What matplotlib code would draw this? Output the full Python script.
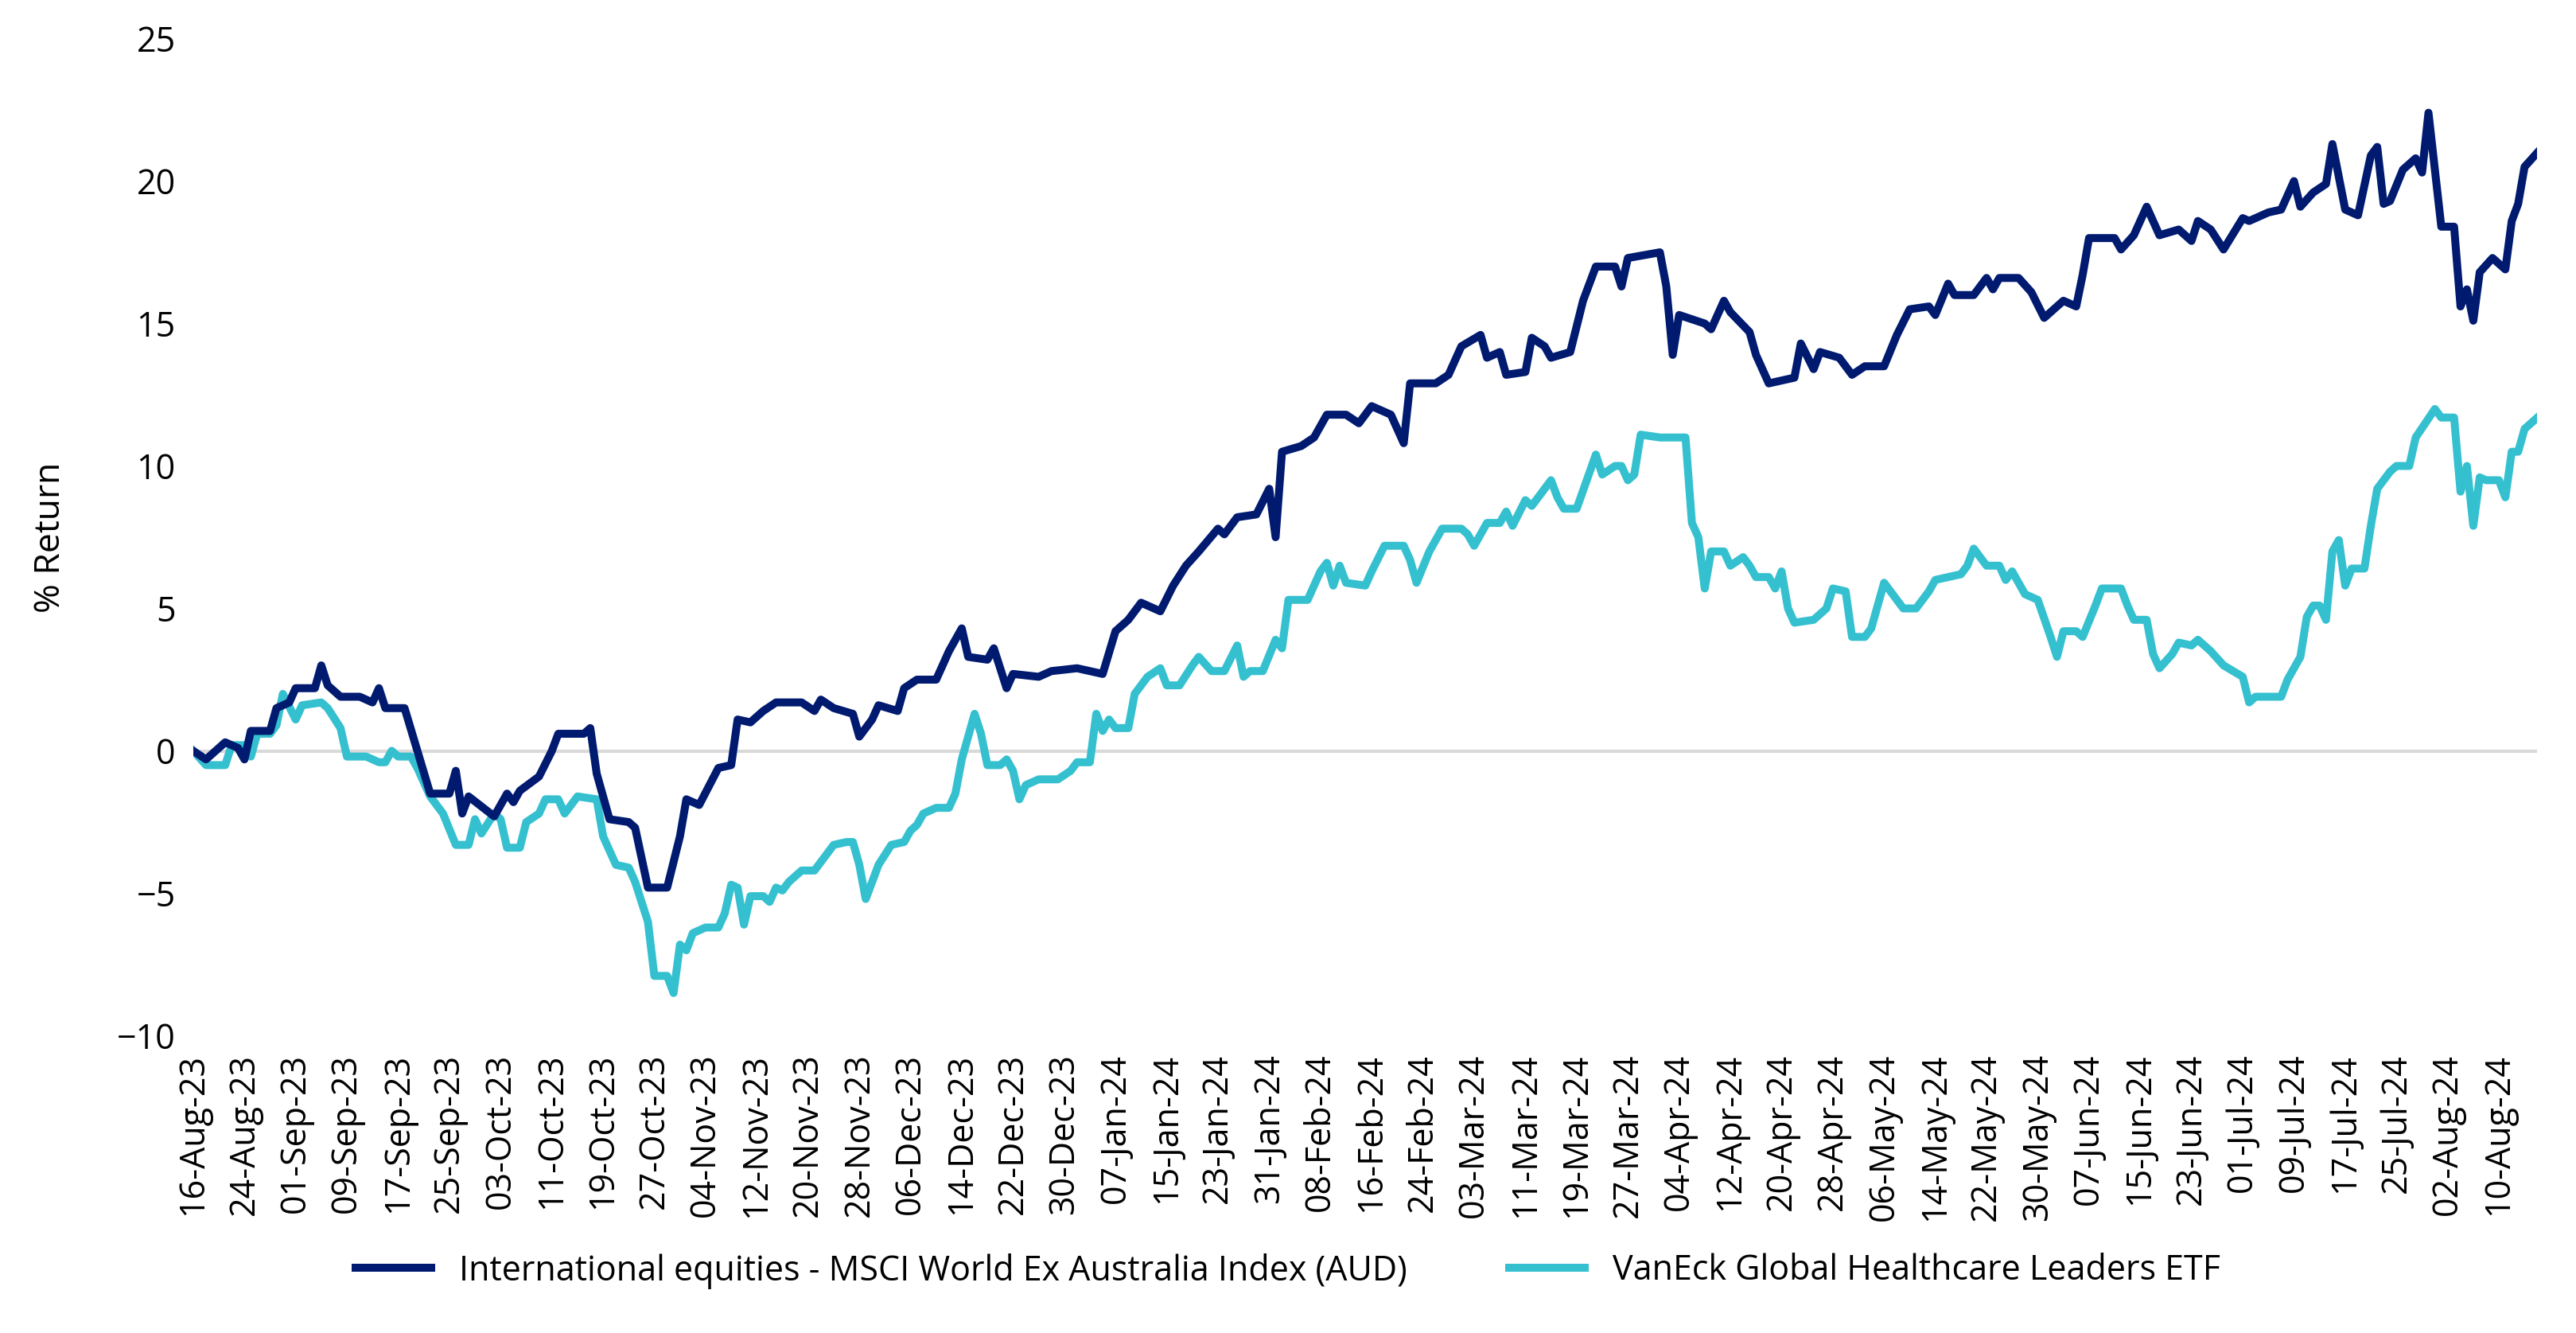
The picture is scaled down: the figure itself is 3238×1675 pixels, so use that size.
import pandas as pd
import matplotlib.pyplot as plt
import matplotlib.dates as mdates

plt.rcParams["font.family"] = ["Open Sans", "DejaVu Sans"]

msci_dates = ["2023-08-16", "2023-08-18", "2023-08-21", "2023-08-23", "2023-08-24", "2023-08-25",
              "2023-08-28", "2023-08-29", "2023-08-31", "2023-09-01", "2023-09-04", "2023-09-05",
              "2023-09-06", "2023-09-08", "2023-09-11", "2023-09-13", "2023-09-14", "2023-09-15",
              "2023-09-18", "2023-09-20", "2023-09-22", "2023-09-25", "2023-09-26", "2023-09-27",
              "2023-09-28", "2023-10-02", "2023-10-04", "2023-10-05", "2023-10-06", "2023-10-09",
              "2023-10-11", "2023-10-12", "2023-10-16", "2023-10-17", "2023-10-18", "2023-10-20",
              "2023-10-23", "2023-10-24", "2023-10-26", "2023-10-29", "2023-10-31", "2023-11-01",
              "2023-11-03", "2023-11-06", "2023-11-08", "2023-11-09", "2023-11-11", "2023-11-13",
              "2023-11-15", "2023-11-19", "2023-11-21", "2023-11-22", "2023-11-24", "2023-11-27",
              "2023-11-28", "2023-11-30", "2023-12-01", "2023-12-04", "2023-12-05", "2023-12-07",
              "2023-12-10", "2023-12-12", "2023-12-14", "2023-12-15", "2023-12-18", "2023-12-19",
              "2023-12-21", "2023-12-22", "2023-12-26", "2023-12-28", "2024-01-01", "2024-01-03",
              "2024-01-05", "2024-01-07", "2024-01-09", "2024-01-11", "2024-01-14", "2024-01-16",
              "2024-01-18", "2024-01-20", "2024-01-23", "2024-01-24", "2024-01-26", "2024-01-29",
              "2024-01-31", "2024-02-01", "2024-02-02", "2024-02-05", "2024-02-07", "2024-02-09",
              "2024-02-12", "2024-02-14", "2024-02-16", "2024-02-19", "2024-02-21", "2024-02-22",
              "2024-02-26", "2024-02-28", "2024-03-01", "2024-03-04", "2024-03-05", "2024-03-07",
              "2024-03-08", "2024-03-11", "2024-03-12", "2024-03-14", "2024-03-15", "2024-03-18",
              "2024-03-20", "2024-03-22", "2024-03-25", "2024-03-26", "2024-03-27", "2024-04-01",
              "2024-04-02", "2024-04-03", "2024-04-04", "2024-04-08", "2024-04-09", "2024-04-11",
              "2024-04-12", "2024-04-15", "2024-04-16", "2024-04-18", "2024-04-22", "2024-04-23",
              "2024-04-25", "2024-04-26", "2024-04-29", "2024-05-01", "2024-05-03", "2024-05-06",
              "2024-05-08", "2024-05-10", "2024-05-13", "2024-05-14", "2024-05-16", "2024-05-17",
              "2024-05-20", "2024-05-22", "2024-05-23", "2024-05-24", "2024-05-27", "2024-05-29",
              "2024-05-31", "2024-06-03", "2024-06-05", "2024-06-06", "2024-06-07", "2024-06-11",
              "2024-06-12", "2024-06-14", "2024-06-16", "2024-06-18", "2024-06-21", "2024-06-23",
              "2024-06-24", "2024-06-26", "2024-06-28", "2024-07-01", "2024-07-02", "2024-07-05",
              "2024-07-07", "2024-07-09", "2024-07-10", "2024-07-12", "2024-07-14", "2024-07-15",
              "2024-07-17", "2024-07-19", "2024-07-21", "2024-07-22", "2024-07-23", "2024-07-24",
              "2024-07-26", "2024-07-28", "2024-07-29", "2024-07-30", "2024-08-01", "2024-08-03",
              "2024-08-04", "2024-08-05", "2024-08-06", "2024-08-07", "2024-08-09", "2024-08-11",
              "2024-08-12", "2024-08-13", "2024-08-14", "2024-08-16"]
msci = [0, -0.3, 0.3, 0.1, -0.3, 0.7,
        0.7, 1.5, 1.7, 2.2, 2.2, 3.0,
        2.3, 1.9, 1.9, 1.7, 2.2, 1.5,
        1.5, 0.0, -1.5, -1.5, -0.7, -2.2,
        -1.6, -2.3, -1.5, -1.8, -1.4, -0.9,
        0.0, 0.6, 0.6, 0.8, -0.8, -2.4,
        -2.5, -2.7, -4.8, -4.8, -3.0, -1.7,
        -1.9, -0.6, -0.5, 1.1, 1.0, 1.4,
        1.7, 1.7, 1.4, 1.8, 1.5, 1.3,
        0.5, 1.1, 1.6, 1.4, 2.2, 2.5,
        2.5, 3.5, 4.3, 3.3, 3.2, 3.6,
        2.2, 2.7, 2.6, 2.8, 2.9, 2.8,
        2.7, 4.2, 4.6, 5.2, 4.9, 5.8,
        6.5, 7.0, 7.8, 7.6, 8.2, 8.3,
        9.2, 7.5, 10.5, 10.7, 11.0, 11.8,
        11.8, 11.5, 12.1, 11.8, 10.8, 12.9,
        12.9, 13.2, 14.2, 14.6, 13.8, 14.0,
        13.2, 13.3, 14.5, 14.2, 13.8, 14.0,
        15.8, 17.0, 17.0, 16.3, 17.3, 17.5,
        16.3, 13.9, 15.3, 15.0, 14.8, 15.8,
        15.4, 14.7, 13.9, 12.9, 13.1, 14.3,
        13.4, 14.0, 13.8, 13.2, 13.5, 13.5,
        14.6, 15.5, 15.6, 15.3, 16.4, 16.0,
        16.0, 16.6, 16.2, 16.6, 16.6, 16.1,
        15.2, 15.8, 15.6, 16.7, 18.0, 18.0,
        17.6, 18.1, 19.1, 18.1, 18.3, 17.9,
        18.6, 18.3, 17.6, 18.7, 18.6, 18.9,
        19.0, 20.0, 19.1, 19.6, 19.9, 21.3,
        19.0, 18.8, 20.9, 21.2, 19.2, 19.3,
        20.4, 20.8, 20.3, 22.4, 18.4, 18.4,
        15.6, 16.2, 15.1, 16.8, 17.3, 16.9,
        18.6, 19.2, 20.5, 21.0]

etf_dates = ["2023-08-16", "2023-08-18", "2023-08-21", "2023-08-22", "2023-08-24", "2023-08-25",
             "2023-08-26", "2023-08-28", "2023-08-29", "2023-08-30", "2023-09-01", "2023-09-02",
             "2023-09-05", "2023-09-06", "2023-09-08", "2023-09-09", "2023-09-12", "2023-09-14",
             "2023-09-15", "2023-09-16", "2023-09-17", "2023-09-19", "2023-09-20", "2023-09-22",
             "2023-09-24", "2023-09-26", "2023-09-28", "2023-09-29", "2023-09-30", "2023-10-02",
             "2023-10-03", "2023-10-04", "2023-10-06", "2023-10-07", "2023-10-09", "2023-10-10",
             "2023-10-12", "2023-10-13", "2023-10-15", "2023-10-18", "2023-10-19", "2023-10-21",
             "2023-10-23", "2023-10-24", "2023-10-26", "2023-10-27", "2023-10-29", "2023-10-30",
             "2023-10-31", "2023-11-01", "2023-11-02", "2023-11-04", "2023-11-06", "2023-11-07",
             "2023-11-08", "2023-11-09", "2023-11-10", "2023-11-11", "2023-11-13", "2023-11-14",
             "2023-11-15", "2023-11-16", "2023-11-17", "2023-11-19", "2023-11-21", "2023-11-22",
             "2023-11-24", "2023-11-26", "2023-11-27", "2023-11-28", "2023-11-29", "2023-12-01",
             "2023-12-03", "2023-12-05", "2023-12-06", "2023-12-07", "2023-12-08", "2023-12-10",
             "2023-12-12", "2023-12-13", "2023-12-14", "2023-12-16", "2023-12-17", "2023-12-18",
             "2023-12-20", "2023-12-21", "2023-12-22", "2023-12-23", "2023-12-24", "2023-12-26",
             "2023-12-29", "2023-12-31", "2024-01-01", "2024-01-03", "2024-01-04", "2024-01-05",
             "2024-01-06", "2024-01-07", "2024-01-09", "2024-01-10", "2024-01-12", "2024-01-14",
             "2024-01-15", "2024-01-17", "2024-01-19", "2024-01-20", "2024-01-22", "2024-01-24",
             "2024-01-26", "2024-01-27", "2024-01-28", "2024-01-30", "2024-02-01", "2024-02-02",
             "2024-02-03", "2024-02-06", "2024-02-08", "2024-02-09", "2024-02-10", "2024-02-11",
             "2024-02-12", "2024-02-15", "2024-02-16", "2024-02-18", "2024-02-21", "2024-02-22",
             "2024-02-23", "2024-02-25", "2024-02-27", "2024-03-01", "2024-03-02", "2024-03-03",
             "2024-03-05", "2024-03-07", "2024-03-08", "2024-03-09", "2024-03-11", "2024-03-12",
             "2024-03-15", "2024-03-16", "2024-03-17", "2024-03-19", "2024-03-22", "2024-03-23",
             "2024-03-25", "2024-03-26", "2024-03-27", "2024-03-28", "2024-03-29", "2024-04-01",
             "2024-04-05", "2024-04-06", "2024-04-07", "2024-04-08", "2024-04-09", "2024-04-11",
             "2024-04-12", "2024-04-14", "2024-04-15", "2024-04-16", "2024-04-18", "2024-04-19",
             "2024-04-20", "2024-04-21", "2024-04-22", "2024-04-25", "2024-04-27", "2024-04-28",
             "2024-04-30", "2024-05-01", "2024-05-03", "2024-05-04", "2024-05-06", "2024-05-07",
             "2024-05-09", "2024-05-11", "2024-05-13", "2024-05-14", "2024-05-16", "2024-05-18",
             "2024-05-19", "2024-05-20", "2024-05-22", "2024-05-24", "2024-05-25", "2024-05-26",
             "2024-05-28", "2024-05-30", "2024-06-01", "2024-06-02", "2024-06-03", "2024-06-05",
             "2024-06-06", "2024-06-08", "2024-06-09", "2024-06-12", "2024-06-13", "2024-06-14",
             "2024-06-16", "2024-06-17", "2024-06-18", "2024-06-20", "2024-06-21", "2024-06-23",
             "2024-06-24", "2024-06-26", "2024-06-28", "2024-07-01", "2024-07-02", "2024-07-03",
             "2024-07-07", "2024-07-08", "2024-07-10", "2024-07-11", "2024-07-12", "2024-07-13",
             "2024-07-14", "2024-07-15", "2024-07-16", "2024-07-17", "2024-07-18", "2024-07-20",
             "2024-07-21", "2024-07-22", "2024-07-24", "2024-07-25", "2024-07-27", "2024-07-28",
             "2024-07-31", "2024-08-01", "2024-08-03", "2024-08-04", "2024-08-05", "2024-08-06",
             "2024-08-07", "2024-08-08", "2024-08-10", "2024-08-11", "2024-08-12", "2024-08-13",
             "2024-08-14", "2024-08-16"]
etf = [0, -0.5, -0.5, 0.2, 0.2, -0.2,
       0.6, 0.6, 0.9, 2.0, 1.1, 1.6,
       1.7, 1.5, 0.8, -0.2, -0.2, -0.4,
       -0.4, 0.0, -0.2, -0.2, -0.6, -1.6,
       -2.2, -3.3, -3.3, -2.4, -2.9, -2.2,
       -2.4, -3.4, -3.4, -2.5, -2.2, -1.7,
       -1.7, -2.2, -1.6, -1.7, -3.0, -4.0,
       -4.1, -4.6, -6.0, -7.9, -7.9, -8.5,
       -6.8, -7.0, -6.4, -6.2, -6.2, -5.7,
       -4.7, -4.8, -6.1, -5.1, -5.1, -5.3,
       -4.8, -4.9, -4.6, -4.2, -4.2, -3.9,
       -3.3, -3.2, -3.2, -4.0, -5.2, -4.0,
       -3.3, -3.2, -2.8, -2.6, -2.2, -2.0,
       -2.0, -1.5, -0.3, 1.3, 0.6, -0.5,
       -0.5, -0.3, -0.7, -1.7, -1.2, -1.0,
       -1.0, -0.7, -0.4, -0.4, 1.3, 0.7,
       1.1, 0.8, 0.8, 2.0, 2.6, 2.9,
       2.3, 2.3, 3.0, 3.3, 2.8, 2.8,
       3.7, 2.6, 2.8, 2.8, 3.9, 3.6,
       5.3, 5.3, 6.3, 6.6, 5.8, 6.5,
       5.9, 5.8, 6.3, 7.2, 7.2, 6.7,
       5.9, 7.0, 7.8, 7.8, 7.6, 7.2,
       8.0, 8.0, 8.4, 7.9, 8.8, 8.6,
       9.5, 8.9, 8.5, 8.5, 10.4, 9.7,
       10.0, 10.0, 9.5, 9.7, 11.1, 11.0,
       11.0, 8.0, 7.5, 5.7, 7.0, 7.0,
       6.5, 6.8, 6.5, 6.1, 6.1, 5.7,
       6.3, 5.0, 4.5, 4.6, 5.0, 5.7,
       5.6, 4.0, 4.0, 4.3, 5.9, 5.6,
       5.0, 5.0, 5.6, 6.0, 6.1, 6.2,
       6.5, 7.1, 6.5, 6.5, 6.0, 6.3,
       5.5, 5.3, 4.0, 3.3, 4.2, 4.2,
       4.0, 5.1, 5.7, 5.7, 5.1, 4.6,
       4.6, 3.4, 2.9, 3.4, 3.8, 3.7,
       3.9, 3.5, 3.0, 2.6, 1.7, 1.9,
       1.9, 2.5, 3.3, 4.7, 5.1, 5.1,
       4.6, 7.0, 7.4, 5.8, 6.4, 6.4,
       7.9, 9.2, 9.8, 10.0, 10.0, 11.0,
       12.0, 11.7, 11.7, 9.1, 10.0, 7.9,
       9.6, 9.5, 9.5, 8.9, 10.5, 10.5,
       11.3, 11.7]

labels = ["International equities - MSCI World Ex Australia Index (AUD)",
          "VanEck Global Healthcare Leaders ETF"]
tick_dates = pd.date_range("2023-08-16", "2024-08-10", freq="8D")

fig = plt.figure(figsize=(16.19, 8.375), dpi=200)
ax = fig.add_axes([0.075, 0.223, 0.91, 0.748])

ax.axhline(0, color="#d9d9d9", lw=1.5, zorder=1)
ax.plot(pd.to_datetime(msci_dates), msci, color="#001a70", lw=3.6, label=labels[0], zorder=3)
ax.plot(pd.to_datetime(etf_dates), etf, color="#35c0d0", lw=3.6, label=labels[1], zorder=2)

ax.set_xlim(pd.Timestamp("2023-08-16"), pd.Timestamp("2024-08-16"))
ax.set_ylim(-10, 25)
ax.set_yticks(range(-10, 26, 5))
ax.set_xticks(tick_dates)
ax.xaxis.set_major_formatter(mdates.DateFormatter("%d-%b-%y"))
plt.setp(ax.get_xticklabels(), rotation=90)
ax.tick_params(length=0, labelsize=15.5, pad=8)
ax.set_ylabel("% Return", fontsize=16, labelpad=22)
for s in ax.spines.values():
    s.set_visible(False)

fig.legend(loc="lower center", bbox_to_anchor=(0.5, 0.01), ncol=2, frameon=False,
           fontsize=15.5, handlelength=2.2, columnspacing=3)

fig.savefig("out.png", dpi=200)
